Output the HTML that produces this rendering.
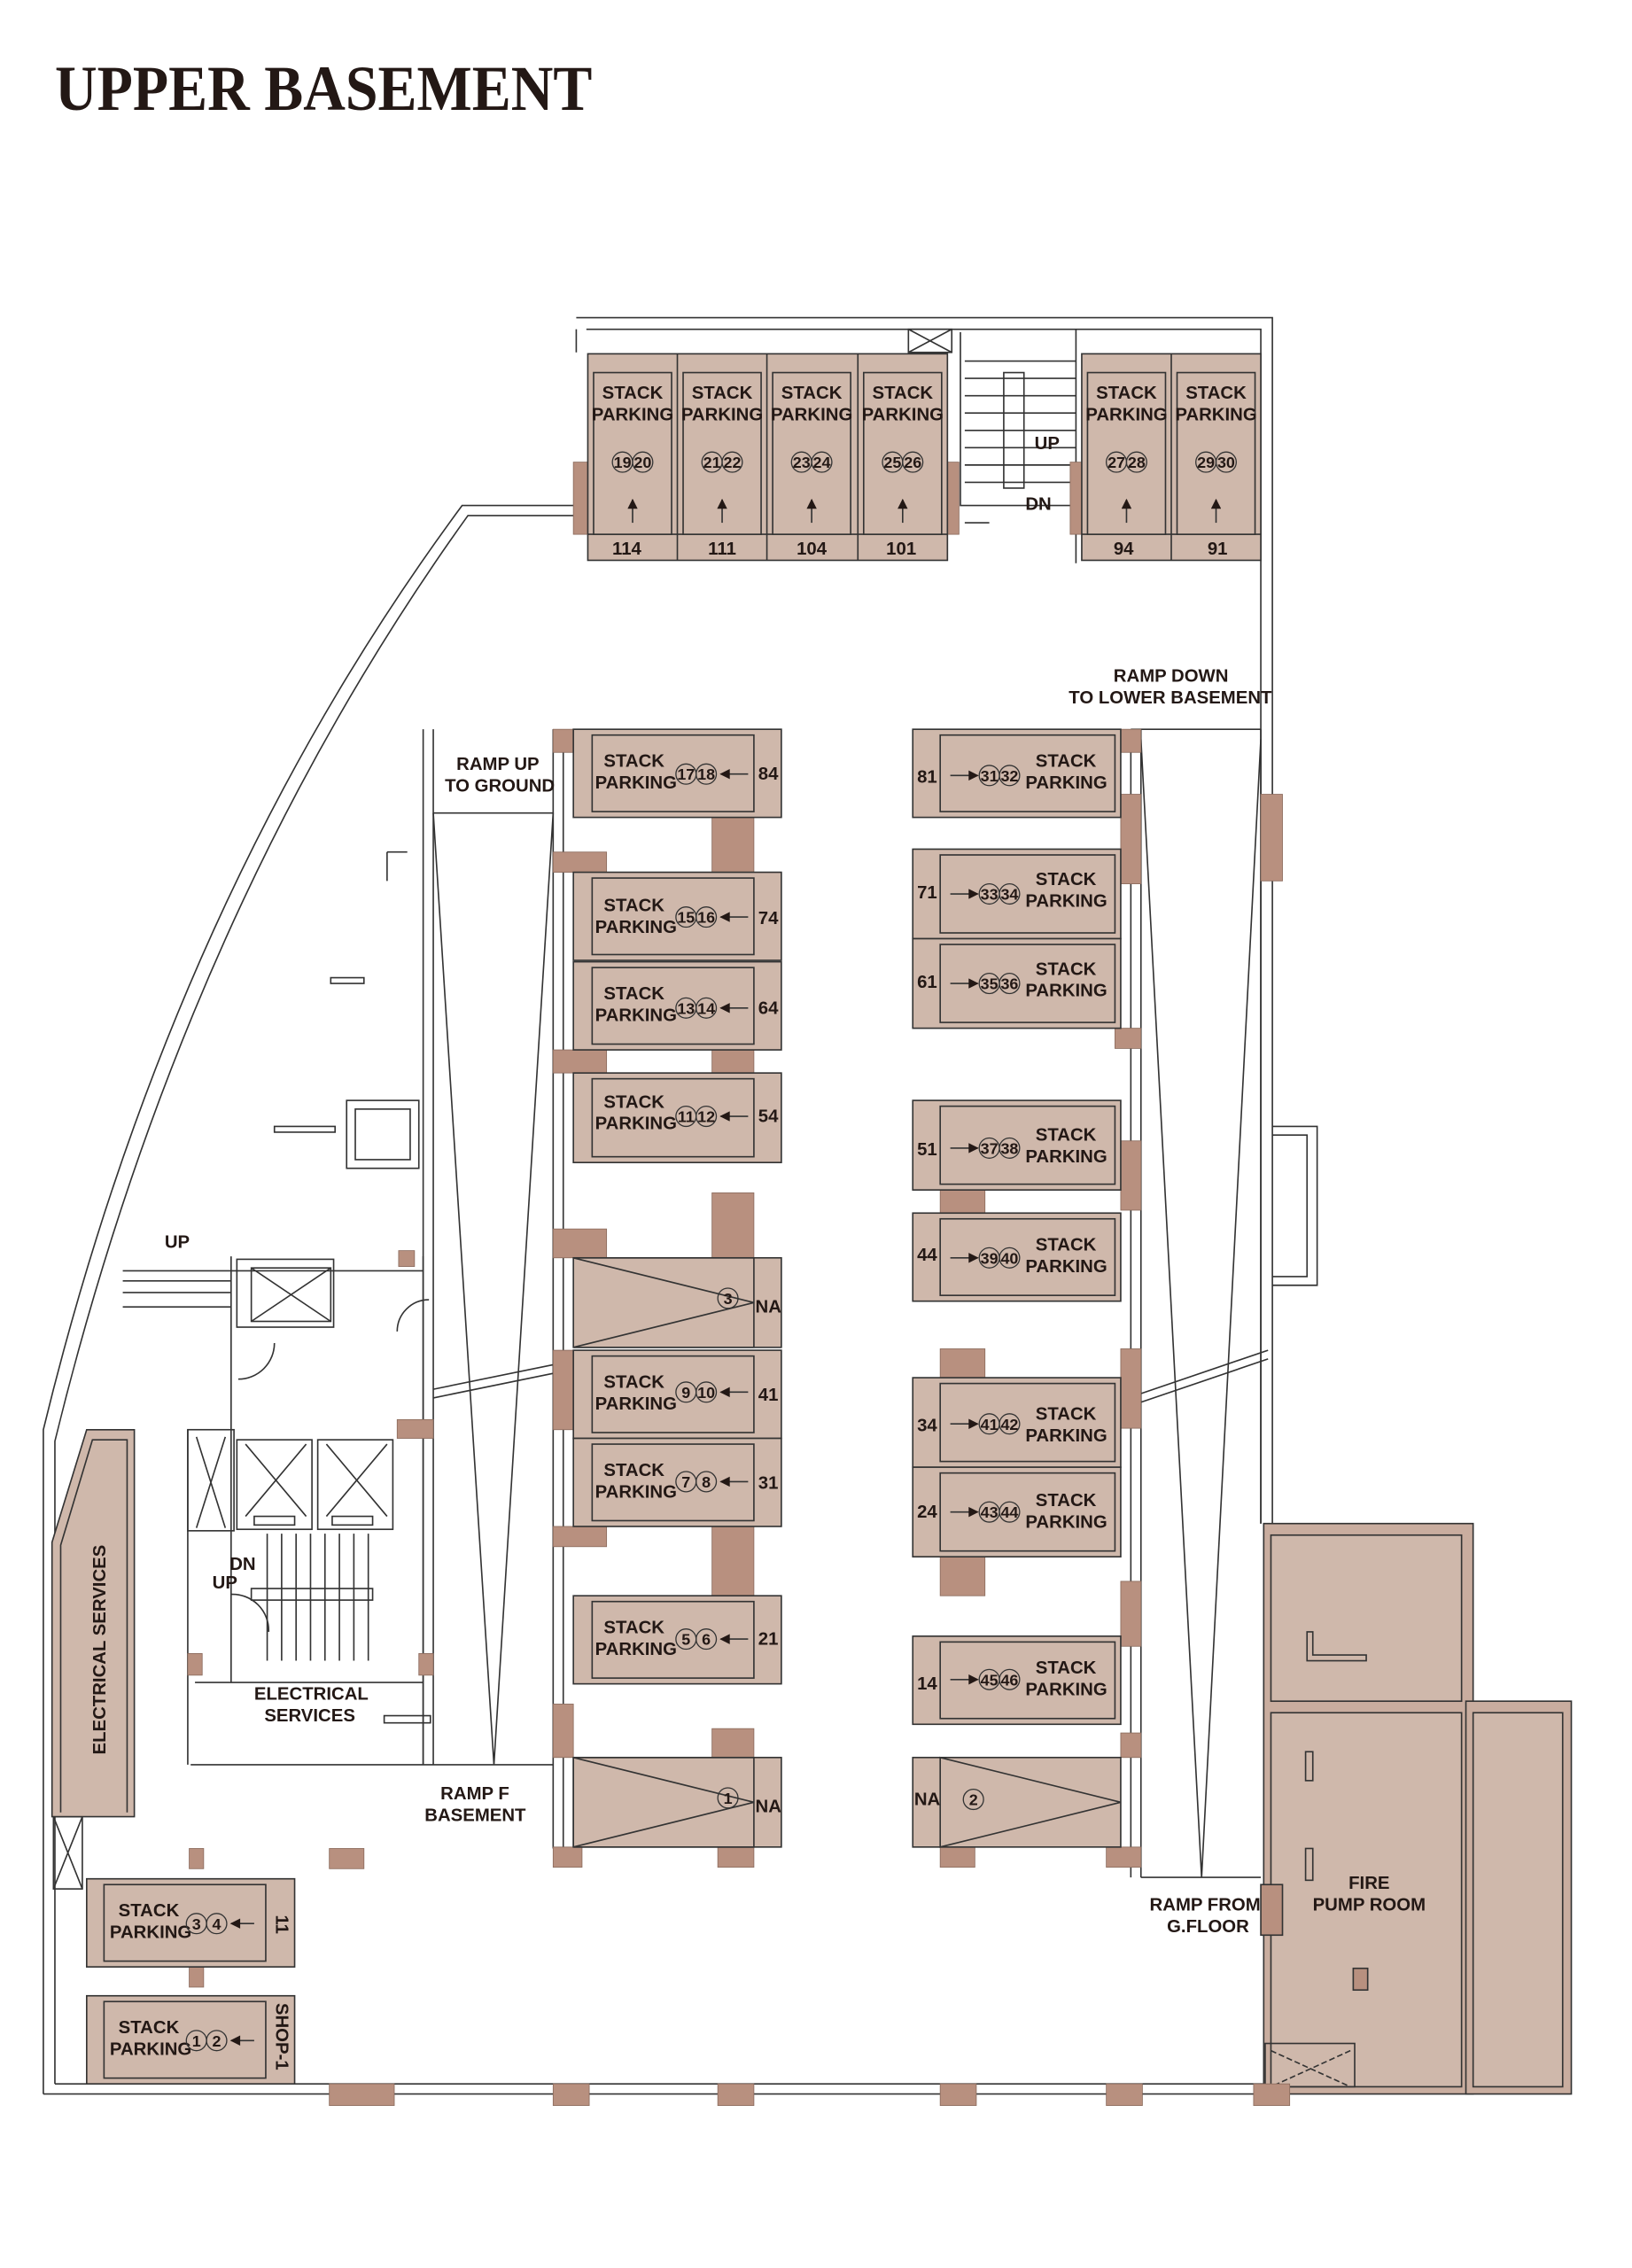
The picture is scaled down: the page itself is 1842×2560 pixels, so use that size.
<!DOCTYPE html>
<html><head><meta charset="utf-8"><style>
html,body{margin:0;padding:0;background:#fff}
svg{display:block}
text{font-family:"Liberation Sans Narrow","Liberation Sans",sans-serif;font-weight:bold;fill:#231815}
.t{font-size:12.5px}
.c{font-size:11px}
</style></head><body>
<svg width="1842" height="2560" viewBox="0 0 1130 1570.5" xmlns="http://www.w3.org/2000/svg">
<defs>
<marker id="ah" viewBox="0 0 10 10" refX="9" refY="5" markerWidth="9" markerHeight="7" markerUnits="userSpaceOnUse" orient="auto"><path d="M0,0L10,5L0,10z" fill="#231815"/></marker>
</defs>
<text x="38" y="76" textLength="372" lengthAdjust="spacingAndGlyphs" style="font-family:'Liberation Serif',serif;font-size:44px;font-weight:bold">UPPER BASEMENT</text>

<g fill="none" stroke="#333" stroke-width="1">
<path d="M399,220 H881 V1055"/>
<path d="M399,228 V244 M406,228 H873 V1055"/>
<path d="M30,1450 H875 M38,1443 H875"/>
<path d="M30,1450 V990 Q120,620 320,350 H399 M38,1443 V998 Q128,630 324,357 H399"/>
<path d="M881,780 H912 V890 H881 M881,786 H905 V884 H881"/>
<path d="M665,230 V350 H745 V230 M745,228 V390"/>
<path d="M293,505 V1222 M300,505 V1222 M383,505 V1280 M390,505 V1280"/>
<path d="M300,563 H383 M300,563 L342,1222 L383,563"/>
<path d="M132,1222 H383"/>
<path d="M783,505 V1300 M790,505 V1300 M873,505 V1055 M783,505 H873"/>
<path d="M790,512 L832,1300 L873,512 M790,1300 H873"/>
<path d="M300,962 L383,945 M300,968 L383,951 M790,965 L878,935 M790,971 L878,941"/>
<path d="M85,880 H293 M85,887 H160 M85,895 H160 M85,905 H160 M160,870 V1165 M130,990 V1222 M293,870 V1222 M135,1165 H293"/>
<rect x="164" y="872" width="67" height="47"/><rect x="174" y="878" width="55" height="37"/>
<path d="M174,878 L229,915 M229,878 L174,915"/>
<rect x="130" y="990" width="32" height="70"/><path d="M136,995 L156,1058 M156,995 L136,1058"/>
<rect x="164" y="997" width="52" height="62"/><path d="M170,1000 L212,1050 M212,1000 L170,1050"/>
<rect x="220" y="997" width="52" height="62"/><path d="M226,1000 L268,1050 M268,1000 L226,1050"/>
<rect x="176" y="1050" width="28" height="6"/><rect x="230" y="1050" width="28" height="6"/>
<path d="M185,1062 V1150 M195,1062 V1150 M205,1062 V1150 M215,1062 V1150 M225,1062 V1150 M235,1062 V1150 M245,1062 V1150 M255,1062 V1150"/>
<rect x="174" y="1100" width="84" height="8"/>
<path d="M186,1130 A25,25 0 0 0 160,1104 M165,955 A25,25 0 0 0 190,930 M297,900 A22,22 0 0 0 275,922"/>
<rect x="240" y="762" width="50" height="47"/><rect x="246" y="768" width="38" height="35"/>
<path d="M268,590 H282 M268,590 V610 M229,677 H252 V681 H229z M190,780 H232 V784 H190z M266,1188 H298 V1193 H266z"/>
<rect x="629" y="228" width="30" height="16"/><path d="M629,228 L659,244 M659,228 L629,244"/>
<rect x="695" y="258" width="14" height="80"/>
<path d="M668,250 H745 M668,262 H745 M668,274 H745 M668,286 H745 M668,298 H745 M668,310 H745 M668,322 H745 M668,334 H745 M668,362 H685"/>
<rect x="37" y="1258" width="20" height="50"/><path d="M37,1258 L57,1308 M57,1258 L37,1308"/>
</g>

<path d="M36,1258 V1068 L60,990 H93 V1258 Z" fill="#cfb8ab" stroke="#333"/>
<path d="M42,1255 V1070 L64,997 H88 V1255" fill="none" stroke="#333"/>
<text transform="translate(73,1215) rotate(-90)" class="t">ELECTRICAL SERVICES</text>

<g stroke="#333" fill="#cfb8ab">
<rect x="875" y="1055" width="145" height="395" fill="#c9ad9f"/>
<rect x="880" y="1063" width="132" height="115"/>
<rect x="880" y="1186" width="132" height="259"/>
<rect x="1015" y="1178" width="73" height="272" fill="#c9ad9f"/>
<rect x="1020" y="1186" width="62" height="259"/>
<rect x="876" y="1415" width="62" height="30" fill="none"/>
<path d="M880,1420 L935,1445 M935,1420 L880,1445" stroke-dasharray="4,2"/>
<rect x="904" y="1213" width="5" height="20" fill="none"/><rect x="904" y="1280" width="5" height="22" fill="none"/>
<rect x="937" y="1363" width="10" height="15" fill="#b8907f"/>
<rect x="873" y="1305" width="15" height="35" fill="#b8907f"/>
</g>
<path d="M905,1130 H909 V1146 H946 V1150 H905 Z" fill="#cfb8ab" stroke="#333"/>
<text x="948" y="1308" class="t" text-anchor="middle">FIRE</text>
<text x="948" y="1323" class="t" text-anchor="middle">PUMP ROOM</text>

<g fill="#b8907f" stroke="#8a6a5c" stroke-width="0.5">
<rect x="397" y="320" width="10" height="50"/><rect x="656" y="320" width="8" height="50"/><rect x="741" y="320" width="8" height="50"/>
<rect x="383" y="505" width="14" height="16"/><rect x="776" y="505" width="14" height="16"/>
<rect x="493" y="566" width="29" height="38"/><rect x="383" y="590" width="37" height="14"/>
<rect x="776" y="550" width="14" height="62"/><rect x="873" y="550" width="15" height="60"/>
<rect x="383" y="727" width="37" height="16"/><rect x="493" y="727" width="29" height="16"/>
<rect x="772" y="712" width="18" height="14"/>
<rect x="776" y="790" width="14" height="48"/><rect x="651" y="824" width="31" height="16"/>
<rect x="493" y="826" width="29" height="45"/><rect x="383" y="851" width="37" height="20"/>
<rect x="383" y="935" width="14" height="55"/><rect x="776" y="934" width="14" height="55"/>
<rect x="651" y="934" width="31" height="20"/><rect x="275" y="983" width="25" height="13"/>
<rect x="493" y="1057" width="29" height="48"/><rect x="383" y="1057" width="37" height="14"/>
<rect x="651" y="1078" width="31" height="27"/><rect x="776" y="1095" width="14" height="45"/>
<rect x="383" y="1180" width="14" height="37"/><rect x="493" y="1197" width="29" height="20"/>
<rect x="776" y="1200" width="14" height="17"/><rect x="651" y="1279" width="24" height="14"/>
<rect x="497" y="1279" width="25" height="14"/><rect x="383" y="1279" width="20" height="14"/>
<rect x="766" y="1279" width="24" height="14"/>
<rect x="276" y="866" width="11" height="11"/><rect x="130" y="1145" width="10" height="15"/><rect x="290" y="1145" width="10" height="15"/>
<rect x="131" y="1280" width="10" height="14"/><rect x="228" y="1280" width="24" height="14"/><rect x="131" y="1362" width="10" height="14"/>
<rect x="228" y="1443" width="45" height="15"/><rect x="383" y="1443" width="25" height="15"/><rect x="497" y="1443" width="25" height="15"/>
<rect x="651" y="1443" width="25" height="15"/><rect x="766" y="1443" width="25" height="15"/><rect x="868" y="1443" width="25" height="15"/>
</g>

<g stroke="#333" fill="#cfb8ab">
<rect x="407" y="245" width="249" height="143"/><rect x="749" y="245" width="124" height="143"/>
<path d="M469,245 V388 M531,245 V388 M594,245 V388 M811,245 V388 M407,370 H656 M749,370 H873" fill="none"/>
<rect x="411" y="258" width="54" height="112"/><rect x="473" y="258" width="54" height="112"/><rect x="535" y="258" width="54" height="112"/><rect x="598" y="258" width="54" height="112"/>
<rect x="753" y="258" width="54" height="112"/><rect x="815" y="258" width="54" height="112"/>
</g>
<g class="t" text-anchor="middle">
<text x="438" y="276" class="t">STACK</text><text x="438" y="291" class="t">PARKING</text>
<text x="500" y="276" class="t">STACK</text><text x="500" y="291" class="t">PARKING</text>
<text x="562" y="276" class="t">STACK</text><text x="562" y="291" class="t">PARKING</text>
<text x="625" y="276" class="t">STACK</text><text x="625" y="291" class="t">PARKING</text>
<text x="780" y="276" class="t">STACK</text><text x="780" y="291" class="t">PARKING</text>
<text x="842" y="276" class="t">STACK</text><text x="842" y="291" class="t">PARKING</text>
<text x="434" y="384" class="t">114</text><text x="500" y="384" class="t">111</text><text x="562" y="384" class="t">104</text><text x="624" y="384" class="t">101</text><text x="778" y="384" class="t">94</text><text x="843" y="384" class="t">91</text>
<text x="725" y="311" class="t">UP</text><text x="719" y="353" class="t">DN</text>
</g>
<g fill="none" stroke="#333" stroke-width="0.8">
<circle cx="431" cy="320" r="7"/><circle cx="445" cy="320" r="7"/><circle cx="493" cy="320" r="7"/><circle cx="507" cy="320" r="7"/>
<circle cx="555" cy="320" r="7"/><circle cx="569" cy="320" r="7"/><circle cx="618" cy="320" r="7"/><circle cx="632" cy="320" r="7"/>
<circle cx="773" cy="320" r="7"/><circle cx="787" cy="320" r="7"/><circle cx="835" cy="320" r="7"/><circle cx="849" cy="320" r="7"/>
</g>
<g class="c" text-anchor="middle">
<text x="431" y="324" class="c">19</text><text x="445" y="324" class="c">20</text><text x="493" y="324" class="c">21</text><text x="507" y="324" class="c">22</text>
<text x="555" y="324" class="c">23</text><text x="569" y="324" class="c">24</text><text x="618" y="324" class="c">25</text><text x="632" y="324" class="c">26</text>
<text x="773" y="324" class="c">27</text><text x="787" y="324" class="c">28</text><text x="835" y="324" class="c">29</text><text x="849" y="324" class="c">30</text>
</g>

<g stroke="#333" fill="#cfb8ab">
<rect x="397" y="505" width="144" height="61"/><rect x="410" y="509" width="112" height="53"/>
<rect x="397" y="604" width="144" height="61"/><rect x="410" y="608" width="112" height="53"/>
<rect x="397" y="666" width="144" height="61"/><rect x="410" y="670" width="112" height="53"/>
<rect x="397" y="743" width="144" height="62"/><rect x="410" y="747" width="112" height="54"/>
<rect x="397" y="871" width="144" height="62"/><path d="M397,871 H522 V933 H397 L522,902 Z" fill="none"/>
<rect x="397" y="935" width="144" height="61"/><rect x="410" y="939" width="112" height="53"/>
<rect x="397" y="996" width="144" height="61"/><rect x="410" y="1000" width="112" height="53"/>
<rect x="397" y="1105" width="144" height="61"/><rect x="410" y="1109" width="112" height="53"/>
<rect x="397" y="1217" width="144" height="62"/><path d="M397,1217 H522 V1279 H397 L522,1248 Z M397,1217 L397,1279" fill="none"/>
<rect x="632" y="505" width="144" height="61"/><rect x="651" y="509" width="121" height="53"/>
<rect x="632" y="588" width="144" height="62"/><rect x="651" y="592" width="121" height="54"/>
<rect x="632" y="650" width="144" height="62"/><rect x="651" y="654" width="121" height="54"/>
<rect x="632" y="762" width="144" height="62"/><rect x="651" y="766" width="121" height="54"/>
<rect x="632" y="840" width="144" height="61"/><rect x="651" y="844" width="121" height="53"/>
<rect x="632" y="954" width="144" height="62"/><rect x="651" y="958" width="121" height="54"/>
<rect x="632" y="1016" width="144" height="62"/><rect x="651" y="1020" width="121" height="54"/>
<rect x="632" y="1133" width="144" height="61"/><rect x="651" y="1137" width="121" height="53"/>
<rect x="632" y="1217" width="144" height="62"/><path d="M651,1217 V1279 L776,1248 Z" fill="none"/>
<rect x="60" y="1301" width="144" height="61"/><rect x="72" y="1305" width="112" height="53"/>
<rect x="60" y="1382" width="144" height="61"/><rect x="72" y="1386" width="112" height="53"/>
</g>
<g class="t">
<text x="418" y="531" class="t">STACK</text><text x="412" y="546" class="t">PARKING</text><text x="525" y="540" class="t">84</text>
<text x="418" y="631" class="t">STACK</text><text x="412" y="646" class="t">PARKING</text><text x="525" y="640" class="t">74</text>
<text x="418" y="692" class="t">STACK</text><text x="412" y="707" class="t">PARKING</text><text x="525" y="702" class="t">64</text>
<text x="418" y="767" class="t">STACK</text><text x="412" y="782" class="t">PARKING</text><text x="525" y="777" class="t">54</text>
<text x="523" y="909" class="t">NA</text>
<text x="418" y="961" class="t">STACK</text><text x="412" y="976" class="t">PARKING</text><text x="525" y="970" class="t">41</text>
<text x="418" y="1022" class="t">STACK</text><text x="412" y="1037" class="t">PARKING</text><text x="525" y="1031" class="t">31</text>
<text x="418" y="1131" class="t">STACK</text><text x="412" y="1146" class="t">PARKING</text><text x="525" y="1139" class="t">21</text>
<text x="523" y="1255" class="t">NA</text>
<text x="717" y="531" class="t">STACK</text><text x="710" y="546" class="t">PARKING</text><text x="635" y="542" class="t">81</text>
<text x="717" y="613" class="t">STACK</text><text x="710" y="628" class="t">PARKING</text><text x="635" y="622" class="t">71</text>
<text x="717" y="675" class="t">STACK</text><text x="710" y="690" class="t">PARKING</text><text x="635" y="684" class="t">61</text>
<text x="717" y="790" class="t">STACK</text><text x="710" y="805" class="t">PARKING</text><text x="635" y="800" class="t">51</text>
<text x="717" y="866" class="t">STACK</text><text x="710" y="881" class="t">PARKING</text><text x="635" y="873" class="t">44</text>
<text x="717" y="983" class="t">STACK</text><text x="710" y="998" class="t">PARKING</text><text x="635" y="991" class="t">34</text>
<text x="717" y="1043" class="t">STACK</text><text x="710" y="1058" class="t">PARKING</text><text x="635" y="1051" class="t">24</text>
<text x="717" y="1159" class="t">STACK</text><text x="710" y="1174" class="t">PARKING</text><text x="635" y="1170" class="t">14</text>
<text x="633" y="1250" class="t">NA</text>
<text x="82" y="1327" class="t">STACK</text><text x="76" y="1342" class="t">PARKING</text>
<text x="82" y="1408" class="t">STACK</text><text x="76" y="1423" class="t">PARKING</text>
<text transform="translate(191,1326) rotate(90)" class="t">11</text>
<text transform="translate(191,1387) rotate(90)" class="t">SHOP-1</text>
<text x="771" y="472" class="t">RAMP DOWN</text><text x="740" y="487" class="t">TO LOWER BASEMENT</text>
<text x="316" y="533" class="t">RAMP UP</text><text x="308" y="548" class="t">TO GROUND</text>
<text x="305" y="1246" class="t">RAMP F</text><text x="294" y="1261" class="t">BASEMENT</text>
<text x="796" y="1323" class="t">RAMP FROM</text><text x="808" y="1338" class="t">G.FLOOR</text>
<text x="176" y="1177" class="t">ELECTRICAL</text><text x="183" y="1192" class="t">SERVICES</text>
<text x="114" y="864" class="t">UP</text><text x="159" y="1087" class="t">DN</text><text x="147" y="1100" class="t">UP</text>
</g>
<g fill="none" stroke="#333" stroke-width="0.8">
<circle cx="475" cy="536" r="7"/><circle cx="489" cy="536" r="7"/>
<circle cx="475" cy="635" r="7"/><circle cx="489" cy="635" r="7"/>
<circle cx="475" cy="698" r="7"/><circle cx="489" cy="698" r="7"/>
<circle cx="475" cy="773" r="7"/><circle cx="489" cy="773" r="7"/>
<circle cx="504" cy="899" r="7"/>
<circle cx="475" cy="964" r="7"/><circle cx="489" cy="964" r="7"/>
<circle cx="475" cy="1026" r="7"/><circle cx="489" cy="1026" r="7"/>
<circle cx="475" cy="1135" r="7"/><circle cx="489" cy="1135" r="7"/>
<circle cx="504" cy="1245" r="7"/>
<circle cx="685" cy="537" r="7"/><circle cx="699" cy="537" r="7"/>
<circle cx="685" cy="619" r="7"/><circle cx="699" cy="619" r="7"/>
<circle cx="685" cy="681" r="7"/><circle cx="699" cy="681" r="7"/>
<circle cx="685" cy="795" r="7"/><circle cx="699" cy="795" r="7"/>
<circle cx="685" cy="871" r="7"/><circle cx="699" cy="871" r="7"/>
<circle cx="685" cy="986" r="7"/><circle cx="699" cy="986" r="7"/>
<circle cx="685" cy="1047" r="7"/><circle cx="699" cy="1047" r="7"/>
<circle cx="685" cy="1163" r="7"/><circle cx="699" cy="1163" r="7"/>
<circle cx="674" cy="1246" r="7"/>
<circle cx="136" cy="1332" r="7"/><circle cx="150" cy="1332" r="7"/>
<circle cx="136" cy="1413" r="7"/><circle cx="150" cy="1413" r="7"/>
</g>
<g class="c" text-anchor="middle">
<text x="475" y="540" class="c">17</text><text x="489" y="540" class="c">18</text>
<text x="475" y="639" class="c">15</text><text x="489" y="639" class="c">16</text>
<text x="475" y="702" class="c">13</text><text x="489" y="702" class="c">14</text>
<text x="475" y="777" class="c">11</text><text x="489" y="777" class="c">12</text>
<text x="504" y="903" class="c">3</text>
<text x="475" y="968" class="c">9</text><text x="489" y="968" class="c">10</text>
<text x="475" y="1030" class="c">7</text><text x="489" y="1030" class="c">8</text>
<text x="475" y="1139" class="c">5</text><text x="489" y="1139" class="c">6</text>
<text x="504" y="1249" class="c">1</text>
<text x="685" y="541" class="c">31</text><text x="699" y="541" class="c">32</text>
<text x="685" y="623" class="c">33</text><text x="699" y="623" class="c">34</text>
<text x="685" y="685" class="c">35</text><text x="699" y="685" class="c">36</text>
<text x="685" y="799" class="c">37</text><text x="699" y="799" class="c">38</text>
<text x="685" y="875" class="c">39</text><text x="699" y="875" class="c">40</text>
<text x="685" y="990" class="c">41</text><text x="699" y="990" class="c">42</text>
<text x="685" y="1051" class="c">43</text><text x="699" y="1051" class="c">44</text>
<text x="685" y="1167" class="c">45</text><text x="699" y="1167" class="c">46</text>
<text x="674" y="1250" class="c">2</text>
<text x="136" y="1336" class="c">3</text><text x="150" y="1336" class="c">4</text>
<text x="136" y="1417" class="c">1</text><text x="150" y="1417" class="c">2</text>
</g>
<g fill="none" stroke="#333" stroke-width="1" marker-end="url(#ah)">
<path d="M438,362 V346"/><path d="M500,362 V346"/><path d="M562,362 V346"/><path d="M625,362 V346"/><path d="M780,362 V346"/><path d="M842,362 V346"/>
<path d="M518,536 H499"/><path d="M518,635 H499"/><path d="M518,698 H499"/><path d="M518,773 H499"/><path d="M518,964 H499"/><path d="M518,1026 H499"/><path d="M518,1135 H499"/><path d="M176,1332 H160"/><path d="M176,1413 H160"/>
<path d="M658,537 H677"/><path d="M658,619 H677"/><path d="M658,681 H677"/><path d="M658,795 H677"/><path d="M658,871 H677"/><path d="M658,986 H677"/><path d="M658,1047 H677"/><path d="M658,1163 H677"/>
</g>
</svg>
</body></html>
